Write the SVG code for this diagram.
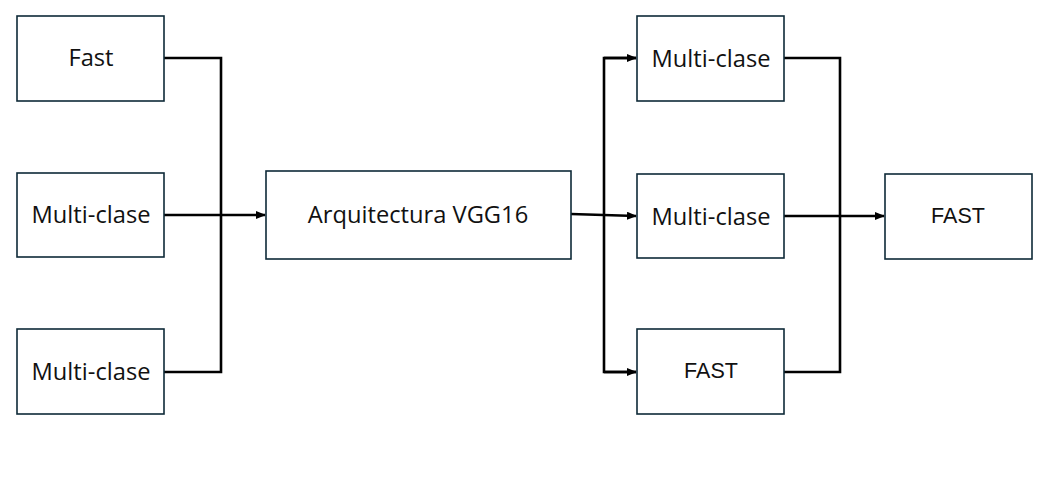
<svg xmlns="http://www.w3.org/2000/svg" width="1062" height="483" viewBox="0 0 1062 483">
<style>
.box{fill:#fff;stroke:#0e2a38;stroke-width:1.6}
.lbl{font-family:"Open Sans","Liberation Sans",sans-serif;font-size:23.7px;fill:#111;text-anchor:middle;dominant-baseline:central}
.arial{font-family:"Liberation Sans",Arial,sans-serif;font-size:21.5px}
.c{fill:none;stroke:#000;stroke-width:2.6}
</style>
<defs>
<marker id="ah" markerWidth="10" markerHeight="8" refX="9" refY="4" orient="auto" markerUnits="userSpaceOnUse">
<path d="M0,0 L10,4 L0,8 Z" fill="#000"/>
</marker>
</defs>
<rect width="1062" height="483" fill="#fff"/>
<g id="connectors">
<path class="c" d="M164,58 H221 V372 H164"/>
<path class="c" d="M164,215 H265" marker-end="url(#ah)"/>
<path class="c" d="M571,214 L636,216" marker-end="url(#ah)"/>
<path class="c" d="M636,58 H604 V372 H636"/>
<path class="c" d="M604,58 H636" marker-end="url(#ah)"/>
<path class="c" d="M604,372 H636" marker-end="url(#ah)"/>
<path class="c" d="M784,58 H840 V372 H784"/>
<path class="c" d="M784,216 H884" marker-end="url(#ah)"/>
</g>
<g id="n1"><rect class="box" x="17" y="16" width="147" height="85"/><text class="lbl" x="91" y="57">Fast</text></g>
<g id="n2"><rect class="box" x="17" y="173" width="147" height="84"/><text class="lbl" x="91" y="214">Multi-clase</text></g>
<g id="n3"><rect class="box" x="17" y="329" width="147" height="85"/><text class="lbl" x="91" y="371">Multi-clase</text></g>
<g id="n4"><rect class="box" x="266" y="171" width="305" height="88"/><text class="lbl" x="418" y="214">Arquitectura VGG16</text></g>
<g id="n5"><rect class="box" x="637" y="16" width="147" height="85"/><text class="lbl" x="711" y="58">Multi-clase</text></g>
<g id="n6"><rect class="box" x="637" y="174" width="147" height="84"/><text class="lbl" x="711" y="216">Multi-clase</text></g>
<g id="n7"><rect class="box" x="637" y="329" width="147" height="85"/><text class="lbl arial" x="711" y="371">FAST</text></g>
<g id="n8"><rect class="box" x="885" y="174" width="147" height="85"/><text class="lbl arial" x="958" y="216">FAST</text></g>
</svg>
